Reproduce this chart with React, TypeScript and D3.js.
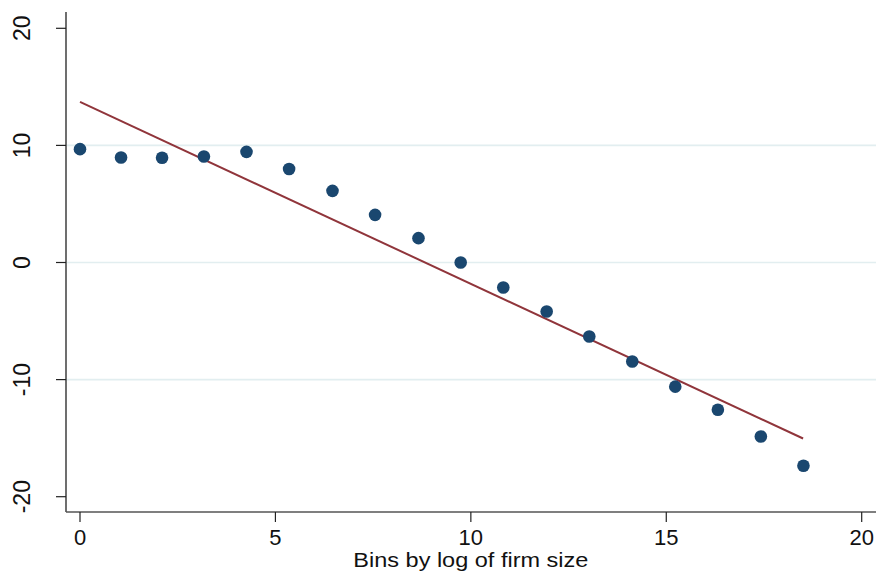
import React from 'react';
import * as d3 from 'd3';

// binned scatter: bin position (log firm size) and mean outcome
const binX = [0, 1.05, 2.1, 3.17, 4.26, 5.35, 6.46, 7.55, 8.66, 9.74, 10.83, 11.94, 13.03, 14.13, 15.23, 16.32, 17.42, 18.51];
const binY = [9.68, 8.97, 8.94, 9.05, 9.45, 7.98, 6.12, 4.07, 2.08, 0, -2.13, -4.18, -6.32, -8.45, -10.6, -12.58, -14.86, -17.36];

// fitted line end points
const fitX = [0, 18.5];
const fitY = [13.72, -15.03];

const xTicks = [0, 5, 10, 15, 20];
const yTicks = [-20, -10, 0, 10, 20];
const yGrid = [-10, 0, 10];
const xTitle = 'Bins by log of firm size';

export default function App() {
  const width = 879;
  const height = 575;
  const left = 66, right = 876, top = 12, bottom = 512;

  const x = d3.scaleLinear().domain([0, 20]).range([80, 861.7]);
  const y = d3.scaleLinear().domain([-20, 20]).range([496.7, 28.3]);

  const line = d3.line<number>()
    .x((d) => x(d))
    .y((d, i) => y(fitY[i]));

  const font = '"Liberation Sans", Arial, sans-serif';

  return (
    <svg width={width} height={height} style={{ position: 'absolute', left: 0, top: 0, background: '#fff' }}>
      {/* grid */}
      {yGrid.map((t) => (
        <line key={'g' + t} x1={left} x2={right} y1={y(t)} y2={y(t)} stroke="#e2eef0" strokeWidth={1.6} />
      ))}

      {/* fit line */}
      <path d={line(fitX) || ''} fill="none" stroke="#90353b" strokeWidth={2} />

      {/* points */}
      {binX.map((v, i) => (
        <circle key={i} cx={x(v)} cy={y(binY[i])} r={6.3} fill="#1a476f" />
      ))}

      {/* axes */}
      <line x1={left} x2={left} y1={top} y2={bottom} stroke="#555" strokeWidth={1.7} />
      <line x1={left} x2={right} y1={bottom} y2={bottom} stroke="#555" strokeWidth={1.7} />

      {yTicks.map((t) => (
        <g key={'y' + t}>
          <line x1={left - 10} x2={left} y1={y(t)} y2={y(t)} stroke="#222" strokeWidth={1.2} />
          <text
            transform={`translate(30,${y(t)}) rotate(-90)`}
            textAnchor="middle"
            fontFamily={font}
            fontSize={23}
            fill="#111"
          >
            {t}
          </text>
        </g>
      ))}

      {xTicks.map((t) => (
        <g key={'x' + t}>
          <line x1={x(t)} x2={x(t)} y1={bottom} y2={bottom + 10} stroke="#222" strokeWidth={1.2} />
          <text x={x(t)} y={545} textAnchor="middle" fontFamily={font} fontSize={22} fill="#111">
            {t}
          </text>
        </g>
      ))}

      <text x={x(10)} y={567} textAnchor="middle" fontFamily={font} fontSize={20} fill="#111"
        textLength={235} lengthAdjust="spacingAndGlyphs">
        {xTitle}
      </text>
    </svg>
  );
}
